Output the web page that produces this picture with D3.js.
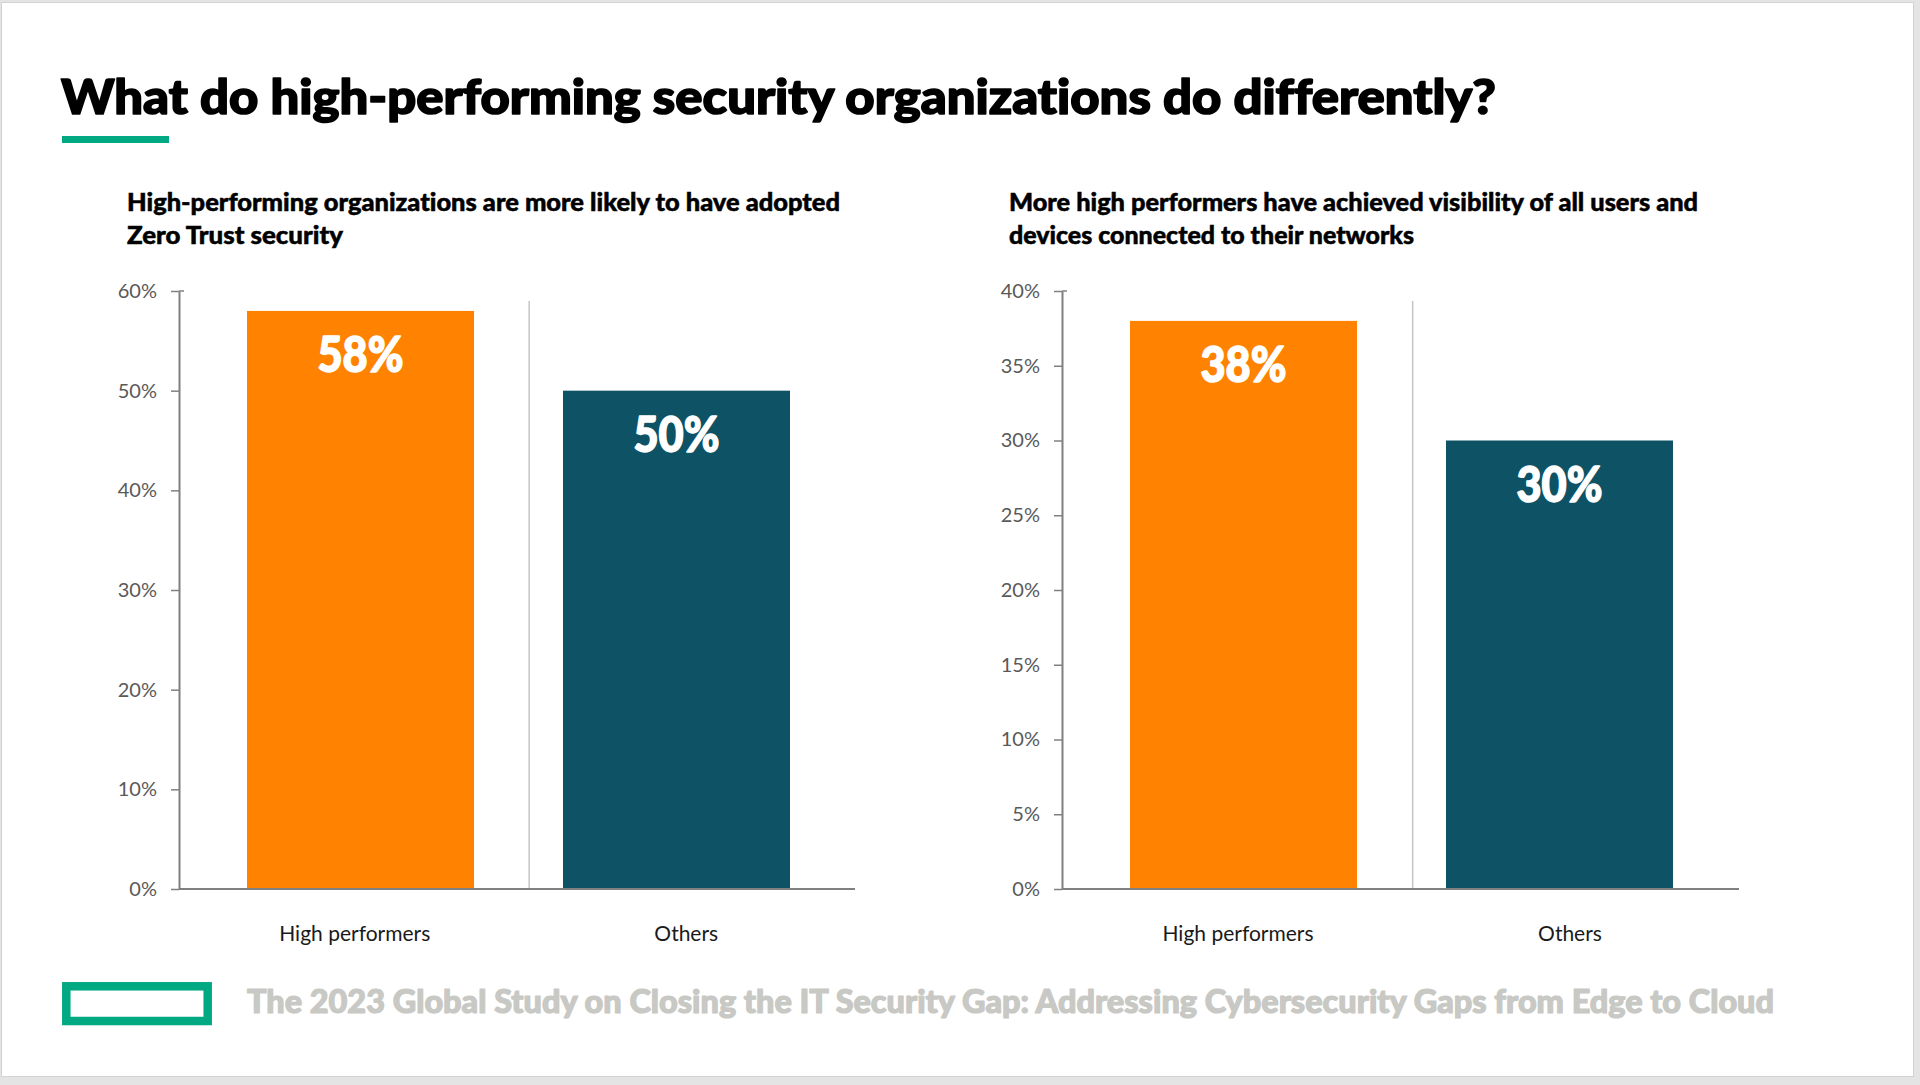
<!DOCTYPE html>
<html>
<head>
<meta charset="utf-8">
<script src="https://cdn.jsdelivr.net/npm/d3@7"></script>
<style>
  html, body { margin: 0; padding: 0; background: #e4e4e4; overflow: hidden; }
  svg { display: block; }
  text { font-variant-ligatures: none; font-feature-settings: "liga" 0, "clig" 0; }
</style>
</head>
<body>
<script>
// ---------- data ----------
const categories = ["High performers", "Others"];
const zeroTrustValues = [0.58, 0.50];
const visibilityValues = [0.38, 0.30];
const leftTicks = [0, 0.1, 0.2, 0.3, 0.4, 0.5, 0.6];
const rightTicks = [0, 0.05, 0.10, 0.15, 0.20, 0.25, 0.30, 0.35, 0.40];
const leftSubtitle = ["High-performing organizations are more likely to have adopted", "Zero Trust security"];
const rightSubtitle = ["More high performers have achieved visibility of all users and", "devices connected to their networks"];
const mainTitle = "What do high-performing security organizations do differently?";
const footerText = "The 2023 Global Study on Closing the IT Security Gap: Addressing Cybersecurity Gaps from Edge to Cloud";
const barColors = ["#FF8300", "#0D5265"];

// ---------- layout ----------
const W = 1920, H = 1085;
const GREEN = "#01A982";
const FONT = "Lato, 'Liberation Sans', sans-serif";
const svg = d3.select("body").append("svg").attr("width", W).attr("height", H);

svg.append("rect").attr("x", 0).attr("y", 0).attr("width", W).attr("height", H).attr("fill", "#e4e4e4");
svg.append("rect").attr("x", 1.5).attr("y", 2.5).attr("width", 1912).attr("height", 1074)
  .attr("fill", "#ffffff").attr("stroke", "#d2d2d2").attr("stroke-width", 1);

// title
svg.append("text").attr("x", 61).attr("y", 114)
  .attr("font-family", FONT).attr("font-weight", 900)
  .attr("font-size", 47).attr("fill", "#000")
  .attr("stroke", "#000").attr("stroke-width", 1.6).attr("stroke-linejoin", "round")
  .attr("textLength", 1435).attr("lengthAdjust", "spacingAndGlyphs")
  .text(mainTitle);
svg.append("rect").attr("x", 62).attr("y", 136).attr("width", 107).attr("height", 7).attr("fill", GREEN);

// footer
svg.append("rect").attr("x", 66.3).attr("y", 986.3).attr("width", 141.4).attr("height", 34.7)
  .attr("fill", "none").attr("stroke", GREEN).attr("stroke-width", 8.5);
svg.append("text").attr("x", 247).attr("y", 1013)
  .attr("font-family", FONT).attr("font-weight", 900)
  .attr("font-size", 33).attr("fill", "#c8c8c4")
  .attr("stroke", "#c8c8c4").attr("stroke-width", 1.2).attr("stroke-linejoin", "round")
  .attr("textLength", 1527).attr("lengthAdjust", "spacingAndGlyphs")
  .text(footerText);

const panels = [
  { x0: 179, x1: 855, values: zeroTrustValues, max: 0.6, ticks: leftTicks,
    subtitle: leftSubtitle, subX: 127, subWidths: [713, 216] },
  { x0: 1062, x1: 1739, values: visibilityValues, max: 0.4, ticks: rightTicks,
    subtitle: rightSubtitle, subX: 1009, subWidths: [689, 405] }
];

const yTop = 291, yBottom = 889;

panels.forEach(p => {
  const g = svg.append("g");

  // subtitle
  p.subtitle.forEach((line, i) => {
    g.append("text").attr("x", p.subX).attr("y", 211 + i * 33)
      .attr("font-family", FONT).attr("font-weight", 900)
      .attr("font-size", 24).attr("fill", "#000")
      .attr("stroke", "#000").attr("stroke-width", 0.5)
      .attr("textLength", p.subWidths[i]).attr("lengthAdjust", "spacingAndGlyphs")
      .text(line);
  });

  const y = d3.scaleLinear().domain([0, p.max]).range([yBottom, yTop]);
  const xBar = d3.scaleBand().domain(categories)
    .range([p.x0 + 68, p.x0 + 611]).paddingInner(0.2816).paddingOuter(0);
  const xLab = d3.scaleBand().domain(categories).range([p.x0 + 10, p.x1 - 3]);

  // separator
  const sepX = p.x0 + (p.x1 - p.x0) * 0.518;
  g.append("line").attr("x1", sepX).attr("x2", sepX).attr("y1", 301).attr("y2", yBottom)
    .attr("stroke", "#c4c4c4").attr("stroke-width", 1.5);

  // bars
  g.selectAll("rect.bar").data(p.values).enter().append("rect")
    .attr("class", "bar")
    .attr("x", (d, i) => xBar(categories[i]))
    .attr("width", xBar.bandwidth())
    .attr("y", d => y(d))
    .attr("height", d => y(0) - y(d))
    .attr("fill", (d, i) => barColors[i]);

  // value labels
  g.selectAll("text.val").data(p.values).enter().append("text")
    .attr("class", "val")
    .attr("x", (d, i) => xBar(categories[i]) + xBar.bandwidth() / 2)
    .attr("y", d => y(d) + 61)
    .attr("text-anchor", "middle")
    .attr("font-family", FONT).attr("font-weight", 900)
    .attr("font-size", 50).attr("fill", "#fff")
    .attr("stroke", "#fff").attr("stroke-width", 1.5).attr("stroke-linejoin", "round")
    .attr("textLength", 86).attr("lengthAdjust", "spacingAndGlyphs")
    .text(d => Math.round(d * 100) + "%");

  // y axis
  const yAxis = d3.axisLeft(y).tickValues(p.ticks).tickSize(8).tickSizeOuter(0).tickPadding(14)
    .tickFormat(d => Math.round(d * 100) + "%");
  const ag = g.append("g").attr("transform", `translate(${p.x0},0)`).call(yAxis);
  ag.select(".domain").attr("stroke", "#808080").attr("stroke-width", 2);
  ag.selectAll(".tick line").attr("stroke", "#808080").attr("stroke-width", 1.5);
  ag.selectAll(".tick text").attr("font-family", "Lato, 'Open Sans', sans-serif")
    .attr("font-size", 20).attr("fill", "#595959");
  // top cap
  g.append("line").attr("x1", p.x0).attr("x2", p.x0 + 5).attr("y1", yTop).attr("y2", yTop)
    .attr("stroke", "#808080").attr("stroke-width", 1.5);

  // x baseline
  g.append("line").attr("x1", p.x0).attr("x2", p.x1).attr("y1", yBottom).attr("y2", yBottom)
    .attr("stroke", "#808080").attr("stroke-width", 2);

  // category labels
  const xAxis = d3.axisBottom(xLab).tickSize(0).tickPadding(0);
  const xg = g.append("g").attr("transform", `translate(0,${941})`).call(xAxis);
  xg.select(".domain").remove();
  xg.selectAll(".tick text").attr("dy", 0)
    .attr("font-family", "Lato, 'Open Sans', sans-serif")
    .attr("font-size", 21).attr("fill", "#1a1a1a");
});
</script>
</body>
</html>
